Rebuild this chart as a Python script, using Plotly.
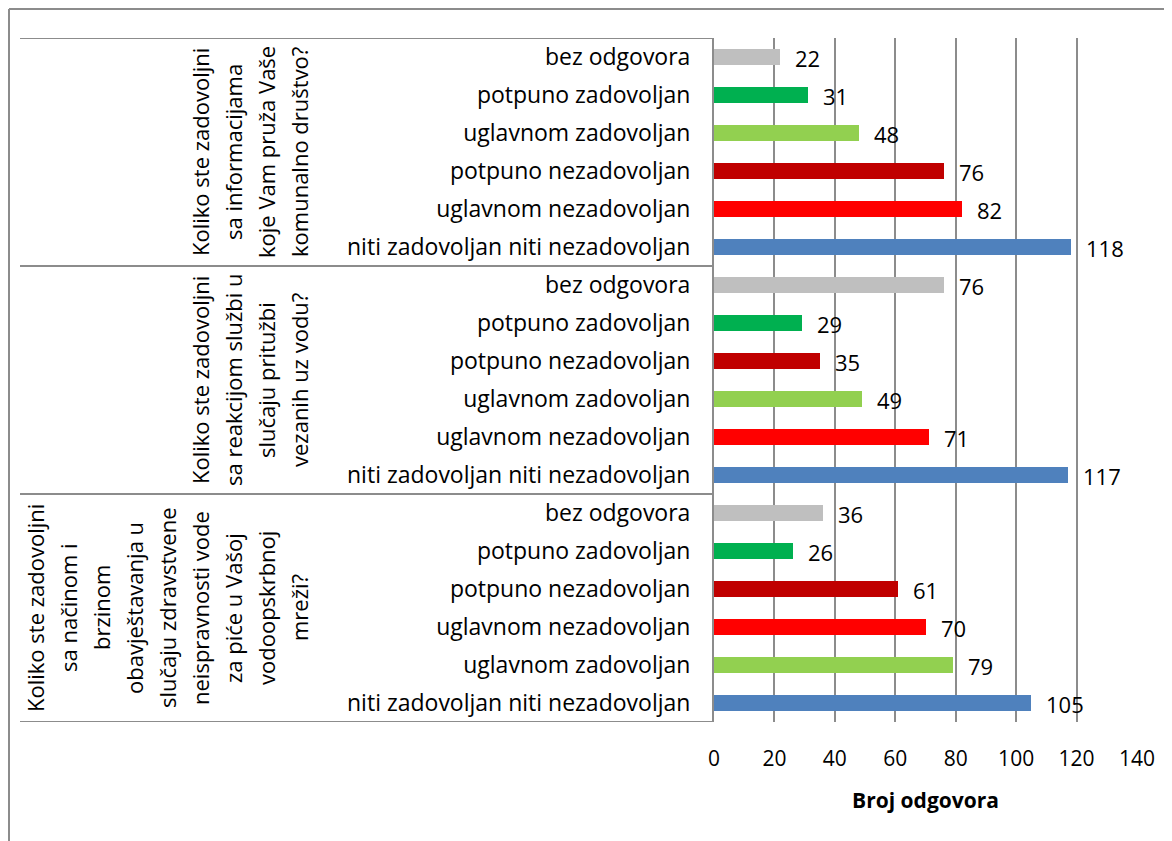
import plotly.graph_objects as go

# top-to-bottom order, as in the picture
GROUPS = [
    ["Koliko ste zadovoljni", "sa informacijama", "koje Vam pruža Vaše", "komunalno društvo?"],
    ["Koliko ste zadovoljni", "sa reakcijom službi u", "slučaju pritužbi", "vezanih uz vodu?"],
    ["Koliko ste zadovoljni", "sa načinom i", "brzinom", "obavještavanja u",
     "slučaju zdravstvene", "neispravnosti vode", "za piće u Vašoj", "vodoopskrbnoj", "mreži?"],
]

ANSWERS_1 = ["bez odgovora", "potpuno zadovoljan", "uglavnom zadovoljan",
             "potpuno nezadovoljan", "uglavnom nezadovoljan", "niti zadovoljan niti nezadovoljan"]
VALUES_1 = [22, 31, 48, 76, 82, 118]

ANSWERS_2 = ["bez odgovora", "potpuno zadovoljan", "potpuno nezadovoljan",
             "uglavnom zadovoljan", "uglavnom nezadovoljan", "niti zadovoljan niti nezadovoljan"]
VALUES_2 = [76, 29, 35, 49, 71, 117]

ANSWERS_3 = ["bez odgovora", "potpuno zadovoljan", "potpuno nezadovoljan",
             "uglavnom nezadovoljan", "uglavnom zadovoljan", "niti zadovoljan niti nezadovoljan"]
VALUES_3 = [36, 26, 61, 70, 79, 105]

X_TICKS = [0, 20, 40, 60, 80, 100, 120, 140]

COLORS = {
    "bez odgovora": "#BFBFBF",
    "potpuno zadovoljan": "#00B050",
    "uglavnom zadovoljan": "#92D050",
    "potpuno nezadovoljan": "#C00000",
    "uglavnom nezadovoljan": "#FF0000",
    "niti zadovoljan niti nezadovoljan": "#4F81BD",
}

FONT = "Open Sans"
GRID = "#8C8C8C"

# page is drawn with an 8px body margin, so work in figure coords (page - 8)
OFF = 8
W, H = 1172 - OFF, 841 - OFF
PLOT_L, PLOT_R, PLOT_T, PLOT_B = 714 - OFF, 1137 - OFF, 38 - OFF, 722 - OFF

answers = ANSWERS_1 + ANSWERS_2 + ANSWERS_3
values = VALUES_1 + VALUES_2 + VALUES_3
pos = list(range(len(answers)))

fig = go.Figure(go.Bar(
    x=values, y=pos, orientation="h", width=0.42,
    marker=dict(color=[COLORS[a] for a in answers], line_width=0),
    hoverinfo="x+text", hovertext=answers,
))

# data labels
for p, v in zip(pos, values):
    fig.add_annotation(x=v, y=p, text=str(v), showarrow=False, xanchor="left",
                       xshift=13, yshift=-1, font=dict(family=FONT, size=22, color="#000"))


def px_x(px):
    return (px - OFF - PLOT_L) / (PLOT_R - PLOT_L)


def px_y(py):
    return (PLOT_B - (py - OFF)) / (PLOT_B - PLOT_T)


# group separators in the label area
n_per = len(ANSWERS_1)
for g in range(len(GROUPS) + 1):
    yb = g * n_per - 0.5
    fig.add_shape(type="line", xref="paper", yref="y", x0=px_x(20), x1=0,
                  y0=yb, y1=yb, line=dict(color=GRID, width=2))

# rotated group labels, one annotation per line (Excel line spacing ~33px)
LAST_LINE_X, LINE_STEP = 299, 33
for g, lines in enumerate(GROUPS):
    n = len(lines)
    for k, line in enumerate(lines):
        fig.add_annotation(x=px_x(LAST_LINE_X - (n - 1 - k) * LINE_STEP), xref="paper",
                           y=g * n_per + (n_per - 1) / 2, yref="y", text=line,
                           textangle=-90, showarrow=False, xanchor="center", yanchor="middle",
                           font=dict(family=FONT, size=22, color="#000"))

# outer frame (top + left edges)
fig.add_shape(type="line", xref="paper", yref="paper", x0=px_x(9), x1=px_x(1180),
              y0=px_y(9), y1=px_y(9), line=dict(color=GRID, width=2))
fig.add_shape(type="line", xref="paper", yref="paper", x0=px_x(9), x1=px_x(9),
              y0=px_y(9), y1=px_y(860), line=dict(color=GRID, width=2))

fig.update_layout(
    width=W, height=H,
    margin=dict(l=PLOT_L, r=W - PLOT_R, t=PLOT_T, b=H - PLOT_B, pad=0),
    plot_bgcolor="white", paper_bgcolor="white",
    font=dict(family=FONT, size=22, color="#000"),
    showlegend=False,
    bargap=0,
)
fig.update_xaxes(range=[0, 140], tickvals=X_TICKS, showgrid=True, gridcolor=GRID, gridwidth=2,
                 zeroline=False, showline=False, ticks="", ticklabelstandoff=22,
                 tickfont=dict(family=FONT, size=21),
                 title=dict(text="<b>Broj odgovora</b>", standoff=22,
                            font=dict(family=FONT, size=21)))
fig.update_yaxes(range=[len(answers) - 0.5, -0.5], tickvals=pos, ticktext=answers,
                 tickfont=dict(family=FONT, size=23),
                 showgrid=False, zeroline=False, showline=True, linecolor=GRID, linewidth=2,
                 ticks="", ticklabelstandoff=17)

fig.write_html("out.html")
